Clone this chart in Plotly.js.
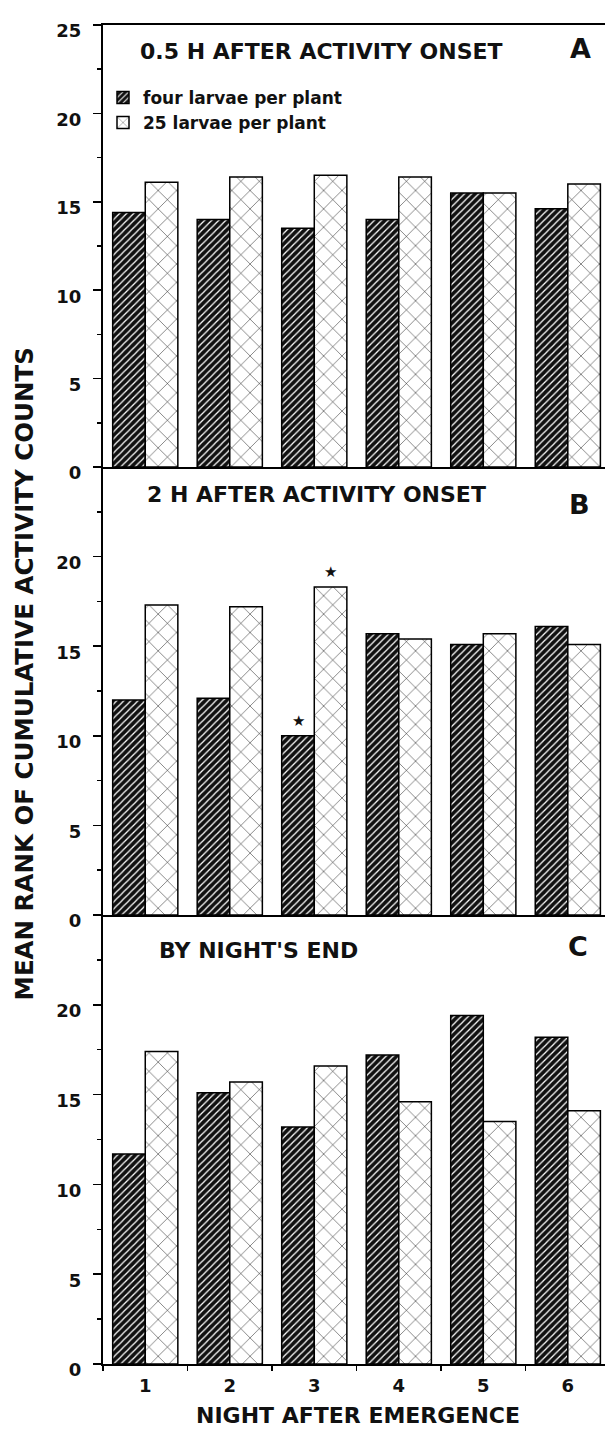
<!DOCTYPE html>
<html>
<head>
<meta charset="utf-8">
<script src="https://cdn.plot.ly/plotly-3.0.1.min.js"></script>
<style>html,body{margin:0;padding:0;background:#fff;}</style>
</head>
<body>
<div id="chart" style="width:605px;height:1429px;"></div>
<script>
const nights = ['1','2','3','4','5','6'];
const seriesNames = ['four larvae per plant', '25 larvae per plant'];
// Panel A: 0.5 h after activity onset
const fourA = [14.4, 14.0, 13.5, 14.0, 15.5, 14.6];
const manyA = [16.1, 16.4, 16.5, 16.4, 15.5, 16.0];
// Panel B: 2 h after activity onset
const fourB = [12.0, 12.1, 10.0, 15.7, 15.1, 16.1];
const manyB = [17.3, 17.2, 18.3, 15.4, 15.7, 15.1];
// Panel C: by night's end
const fourC = [11.7, 15.1, 13.2, 17.2, 19.4, 18.2];
const manyC = [17.4, 15.7, 16.6, 14.6, 13.5, 14.1];
const starNight = '3';
const panelTitles = ['0.5 H AFTER ACTIVITY ONSET', '2 H AFTER ACTIVITY ONSET', "BY NIGHT'S END"];
const panelLetters = ['A', 'B', 'C'];
const yTickTop = [0, 5, 10, 15, 20, 25];
const yTickLower = [0, 5, 10, 15, 20];
const yMinor = [2.5, 7.5, 12.5, 17.5, 22.5];
const yTitle = 'MEAN RANK OF CUMULATIVE ACTIVITY COUNTS';
const xTitle = 'NIGHT AFTER EMERGENCE';

const FONT = 'DejaVu Sans';
const darkMarker = {
  color: '#111111',
  line: {color: '#000', width: 1.5},
  pattern: {shape: '/', fgcolor: '#ffffff', bgcolor: '#111111', size: 5, solidity: 0.25}
};
const openMarker = {
  color: '#ffffff',
  line: {color: '#000', width: 1.5},
  pattern: {shape: 'x', fgcolor: '#000000', bgcolor: '#ffffff', size: 13, solidity: 0.07}
};

const panels = [
  {four: fourA, many: manyA, xa: 'x3', ya: 'y3', legend: true},
  {four: fourB, many: manyB, xa: 'x2', ya: 'y2', legend: false},
  {four: fourC, many: manyC, xa: 'x', ya: 'y', legend: false}
];
const data = [];
panels.forEach(p => {
  data.push({type: 'bar', x: nights, y: p.four, name: seriesNames[0], legendgroup: 'g0',
    showlegend: p.legend, xaxis: p.xa, yaxis: p.ya, marker: darkMarker});
  data.push({type: 'bar', x: nights, y: p.many, name: seriesNames[1], legendgroup: 'g1',
    showlegend: p.legend, xaxis: p.xa, yaxis: p.ya, marker: openMarker});
});

const xRange = [-0.5, 5.44];
function xax(extra) {
  return Object.assign({
    type: 'category', range: xRange, showline: true, linecolor: '#000', linewidth: 2,
    showgrid: false, zeroline: false, fixedrange: true
  }, extra);
}
function yax(domain, anchor, vals) {
  return {
    domain: domain, anchor: anchor, range: [0, 25], showline: true, linecolor: '#000', linewidth: 2,
    showgrid: false, zeroline: false, tickmode: 'array', tickvals: vals, ticks: 'outside',
    ticklen: 8, tickwidth: 1.5, tickcolor: '#000', ticklabelshift: 6, ticklabelstandoff: 8,
    tickfont: {family: FONT, size: 18, weight: 700, color: '#111'},
    minor: {tickmode: 'array', tickvals: yMinor, ticks: 'outside', ticklen: 4, tickwidth: 1.5, tickcolor: '#000'}
  };
}
const dC = [0, 0.3353], dB = [0.3353, 0.6699], dA = [0.6699, 1];

const annotations = [];
const titlePos = [
  {x: 0.0697, y: 0.939, lx: 0.976, ly: 0.946, ref: 'y3 domain'},
  {x: 0.0837, y: 0.9397, lx: 0.974, ly: 0.917, ref: 'y2 domain'},
  {x: 0.1076, y: 0.922, lx: 0.970, ly: 0.931, ref: 'y domain'}
];
titlePos.forEach((t, i) => {
  annotations.push({text: panelTitles[i], xref: 'paper', yref: t.ref, x: t.x, y: t.y,
    xanchor: 'left', yanchor: 'middle', showarrow: false,
    font: {family: FONT, size: 22, weight: 700, color: '#111'}});
  annotations.push({text: panelLetters[i], xref: 'paper', yref: t.ref, x: t.lx, y: t.ly,
    xanchor: 'right', yanchor: 'middle', showarrow: false,
    font: {family: FONT, size: 27, weight: 700, color: '#111'}});
});
// significance stars on night 3, panel B
const si = nights.indexOf(starNight);
annotations.push({text: '★', xref: 'x2', yref: 'y2', x: si, y: fourB[si], xshift: -16, yshift: 4,
  yanchor: 'bottom', showarrow: false, font: {family: FONT, size: 15, color: '#111'}});
annotations.push({text: '★', xref: 'x2', yref: 'y2', x: si, y: manyB[si], xshift: 16, yshift: 4,
  yanchor: 'bottom', showarrow: false, font: {family: FONT, size: 15, color: '#111'}});
annotations.push({text: yTitle, xref: 'paper', yref: 'paper', x: -0.1564, y: 0.5153, textangle: -90,
  xanchor: 'center', yanchor: 'middle', showarrow: false,
  font: {family: FONT, size: 24.5, weight: 700, color: '#111'}});
annotations.push({text: xTitle, xref: 'paper', yref: 'paper', x: 0.508, y: -0.0381,
  xanchor: 'center', yanchor: 'middle', showarrow: false,
  font: {family: FONT, size: 22, weight: 700, color: '#111'}});

const layout = {
  width: 605, height: 1429,
  margin: {l: 103, r: 0, t: 25, b: 65},
  paper_bgcolor: '#fff', plot_bgcolor: '#fff',
  barmode: 'group', bargap: 0.229, bargroupgap: 0,
  showlegend: true,
  legend: {x: 0.0, y: 0.959, xanchor: 'left', yanchor: 'top', bgcolor: 'rgba(0,0,0,0)',
    font: {family: FONT, size: 17, weight: 700, color: '#111'}, tracegroupgap: 0, itemwidth: 30},
  xaxis: xax({anchor: 'y', ticks: 'outside', tickson: 'boundaries', ticklen: 5, tickwidth: 1.5, tickcolor: '#000',
    showticklabels: true, ticklabelstandoff: 4, tickfont: {family: FONT, size: 18, weight: 700, color: '#111'}}),
  xaxis2: xax({anchor: 'y2', matches: 'x', ticks: '', showticklabels: false}),
  xaxis3: xax({anchor: 'y3', matches: 'x', ticks: '', showticklabels: false, mirror: true}),
  yaxis: yax(dC, 'x', yTickLower),
  yaxis2: yax(dB, 'x2', yTickLower),
  yaxis3: yax(dA, 'x3', yTickTop),
  annotations: annotations
};
Plotly.newPlot('chart', data, layout, {displayModeBar: false, staticPlot: true});
</script>
</body>
</html>
